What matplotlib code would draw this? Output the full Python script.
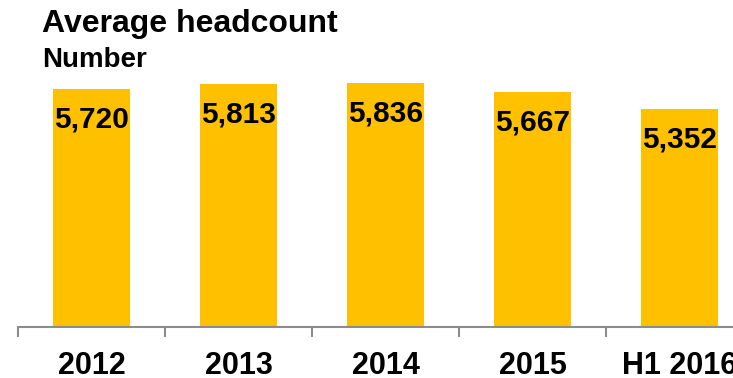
import matplotlib
matplotlib.use("Agg")
import matplotlib.pyplot as plt
import numpy as np

plt.rcParams['font.family'] = ['Liberation Sans', 'DejaVu Sans']

# ── données ──────────────────────────────────────────────────────────────────
categories = ["2012", "2013", "2014", "2015", "H1 2016"]
headcount  = [5720, 5813, 5836, 5667, 5352]
labels     = ["5,720", "5,813", "5,836", "5,667", "5,352"]

BAR_COLOR  = "#FFC000"
AXIS_COLOR = "#8C8C8C"

W, H = 733, 378
fig = plt.figure(figsize=(W / 100, H / 100), dpi=100)

# axe : bord gauche à 18px, ligne de base à y=327px, un pas de 147px par catégorie
left_px, base_px, top_px = 18, 327, 60
ax = fig.add_axes([left_px / W, (H - base_px) / H,
                   (W - left_px) / W, (base_px - top_px) / H])

x = np.arange(len(categories))
ax.bar(x, headcount, width=0.52, color=BAR_COLOR, zorder=2)

px_per_unit = 0.0543
y0 = 1340
ax.set_ylim(y0, y0 + (base_px - top_px) / px_per_unit)
ax.set_xlim(-0.5, -0.5 + (W - left_px) / 147)

for xi, v, lab in zip(x, headcount, labels):
    ax.annotate(lab, xy=(xi, v), xytext=(0, -22), textcoords="offset points",
                ha="center", va="center", fontsize=21.5, fontweight="bold",
                color="black", zorder=3)

for s in ["top", "right", "left"]:
    ax.spines[s].set_visible(False)
ax.spines["bottom"].set_color(AXIS_COLOR)
ax.spines["bottom"].set_linewidth(1.5)
ax.set_yticks([])

ax.set_xticks(x)
ax.set_xticklabels(categories, fontsize=22, fontweight="bold")
ax.tick_params(axis="x", which="major", length=0, pad=17)
ax.set_xticks(np.arange(len(categories)) - 0.5, minor=True)
ax.tick_params(axis="x", which="minor", length=7.2, width=1.5, color=AXIS_COLOR)

fig.text(42 / W, 1 - 9 / H, "Average headcount", fontsize=23,
         fontweight="bold", va="top", ha="left")
fig.text(42 / W, 1 - 47 / H, "Number", fontsize=20,
         fontweight="bold", va="top", ha="left")

fig.savefig("out.png", dpi=100)
plt.close(fig)
